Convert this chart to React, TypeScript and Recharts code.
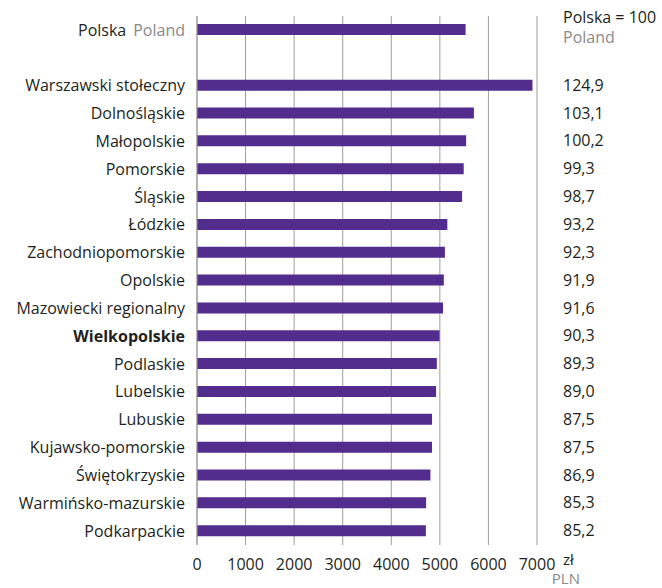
import { BarChart, Bar, XAxis, YAxis, CartesianGrid, LabelList } from 'recharts'

const categories = [
  'Polska',
  '',
  'Warszawski stołeczny',
  'Dolnośląskie',
  'Małopolskie',
  'Pomorskie',
  'Śląskie',
  'Łódzkie',
  'Zachodniopomorskie',
  'Opolskie',
  'Mazowiecki regionalny',
  'Wielkopolskie',
  'Podlaskie',
  'Lubelskie',
  'Lubuskie',
  'Kujawsko-pomorskie',
  'Świętokrzyskie',
  'Warmińsko-mazurskie',
  'Podkarpackie',
]

// average gross wage, zł
const wages = [
  5530, null, 6907, 5701, 5541, 5491, 5458, 5154, 5104, 5082, 5065, 4994, 4938, 4922, 4839, 4839,
  4806, 4717, 4712,
]

// Polska = 100
const indexValues = [
  '', '', '124,9', '103,1', '100,2', '99,3', '98,7', '93,2', '92,3', '91,9', '91,6', '90,3', '89,3',
  '89,0', '87,5', '87,5', '86,9', '85,3', '85,2',
]

const xTicks = [0, 1000, 2000, 3000, 4000, 5000, 6000, 7000]

const data = categories.map((name, i) => ({ name, wage: wages[i], index: indexValues[i] }))

const FONT = '"Open Sans", sans-serif'
const SIZE = 16
const DARK = '#231f20'
const GREY = '#8a8a8a'
const PURPLE = '#532d8e'
const INDEX_X = 563

const RegionTick = (props: any) => {
  const { x, y, payload } = props
  const name = payload.value
  if (name === 'Polska') {
    return (
      <text x={x} y={y} dy="0.35em" textAnchor="end" fontFamily={FONT} fontSize={SIZE}>
        <tspan fill={DARK}>Polska</tspan>
        <tspan fill={GREY} dx={7}>Poland</tspan>
      </text>
    )
  }
  return (
    <text
      x={x}
      y={y}
      dy="0.35em"
      textAnchor="end"
      fontFamily={FONT}
      fontSize={SIZE}
      fill={DARK}
      fontWeight={name === 'Wielkopolskie' ? 700 : 400}
    >
      {name}
    </text>
  )
}

const IndexLabel = (props: any) => {
  const { y, height, value, index } = props
  if (index === 0) {
    const cy = y + height / 2
    return (
      <g fontFamily={FONT} fontSize={SIZE}>
        <text x={INDEX_X} y={cy - 12} dy="0.35em" fill={DARK}>Polska = 100</text>
        <text x={INDEX_X} y={cy + 8} dy="0.35em" fill={GREY}>Poland</text>
      </g>
    )
  }
  if (!value) return null
  return (
    <text x={INDEX_X} y={y + height / 2} dy="0.35em" fill={DARK} fontFamily={FONT} fontSize={SIZE}>
      {value}
    </text>
  )
}

const UnitLabel = (props: any) => {
  const { viewBox } = props
  const ax = viewBox.x + viewBox.width
  const ay = viewBox.y
  return (
    <g fontFamily={FONT} fontSize={15}>
      <text x={ax + 26} y={ay + 20} fill={DARK}>zł</text>
      <text x={ax + 43} y={ay + 39} fill={GREY} textAnchor="end">PLN</text>
    </g>
  )
}

export default function App() {
  return (
    <div style={{ position: 'absolute', left: 0, top: 0, background: '#fff' }}>
      <BarChart
        width={662}
        height={588}
        data={data}
        layout="vertical"
        margin={{ top: 16, right: 125, bottom: 13, left: 0 }}
        barCategoryGap={0}
      >
        <CartesianGrid horizontal={false} stroke="#9d9d9d" />
        <XAxis
          type="number"
          domain={[0, 7000]}
          ticks={xTicks}
          axisLine={false}
          tickLine={false}
          tickMargin={8}
          height={30}
          tick={{ fill: DARK, fontFamily: FONT, fontSize: SIZE }}
          label={{ content: UnitLabel }}
        />
        <YAxis
          type="category"
          dataKey="name"
          width={197}
          axisLine={{ stroke: '#9d9d9d' }}
          tickLine={false}
          tickMargin={6}
          interval={0}
          tick={RegionTick}
        />
        <Bar dataKey="wage" fill={PURPLE} barSize={11} isAnimationActive={false}>
          <LabelList dataKey="index" content={IndexLabel} />
        </Bar>
      </BarChart>
    </div>
  )
}
